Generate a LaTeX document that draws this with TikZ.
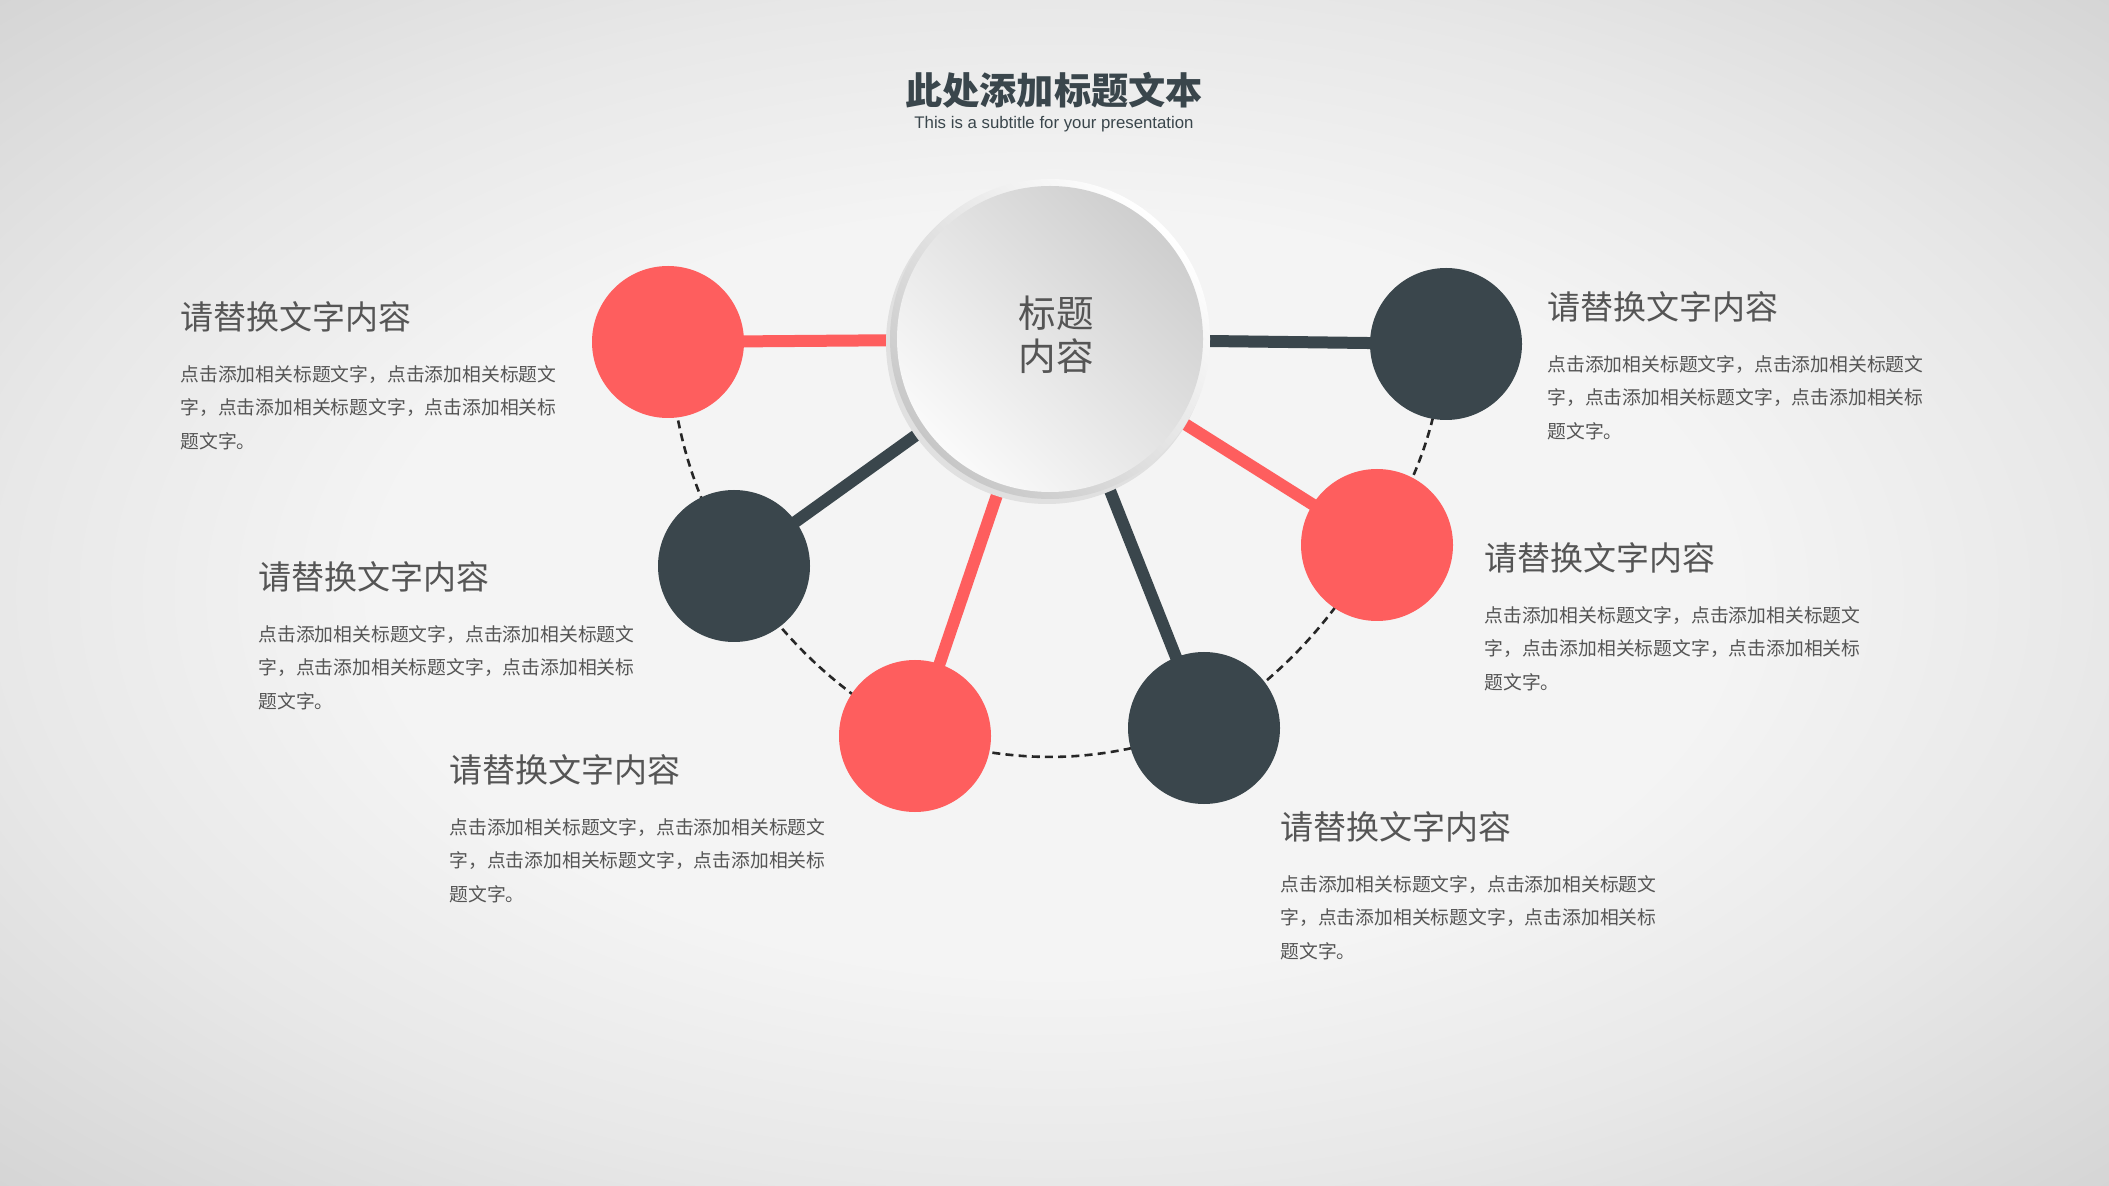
\documentclass[tikz,border=0pt]{standalone}
\usepackage{fontspec}
\setmainfont{Liberation Sans}
\newfontfamily\cjk{Noto Sans CJK SC}
\definecolor{rouge}{HTML}{FE5E5E}
\definecolor{ardoise}{HTML}{3A464C}
\definecolor{gristexte}{HTML}{555555}
\definecolor{fondclair}{HTML}{F4F4F4}
\definecolor{fondmoyen}{HTML}{E8E8E8}
\definecolor{fondsombre}{HTML}{D4D4D4}
\pgfdeclareradialshading{vignette}{\pgfpointorigin}{color(0bp)=(fondclair); color(16bp)=(fondclair); color(25bp)=(fondmoyen); color(36bp)=(fondsombre); color(50bp)=(fondsombre)}
\pgfdeclarelayer{fond}\pgfdeclarelayer{liens}
\pgfsetlayers{fond,liens,main}
\begin{document}
\begin{tikzpicture}[x=0.5pt,y=-0.5pt]
			\tikzstyle{boule}=[circle,inner sep=0pt,minimum size=76pt]
			\tikzstyle{bouleR}=[boule,fill=rouge]
			\tikzstyle{bouleA}=[boule,fill=ardoise]
			\tikzstyle{lienR}=[rouge,line width=6pt]
			\tikzstyle{lienA}=[ardoise,line width=6pt]
			\tikzstyle{pointille}=[black!85,line width=1.3pt,dash pattern=on 4pt off 2.6pt,bend right=12]
			\tikzstyle{moyeu}=[circle,inner sep=0pt,minimum size=153pt,
				top color=black!19,bottom color=black!2,shading angle=-45]
			\tikzstyle{texteMoyeu}=[inner sep=0pt,align=center,text=gristexte,font=\cjk\fontsize{18.8}{21.5}\selectfont]
			\tikzstyle{titre}=[inner sep=0pt,text=ardoise,font=\cjk\bfseries\fontsize{18.6}{20}\selectfont]
			\tikzstyle{soustitre}=[inner sep=0pt,text=ardoise,font=\fontsize{8.4}{10}\selectfont]
			\tikzstyle{entete}=[anchor=west,inner sep=0pt,text=gristexte,font=\cjk\fontsize{16.5}{18}\selectfont]
			\tikzstyle{corps}=[anchor=north west,inner sep=0pt,align=left,text=gristexte,font=\cjk\fontsize{9.4}{16.8}\selectfont]
			\def\Entete{请替换文字内容}
			\def\Corps{点击添加相关标题文字，点击添加相关标题文\\字，点击添加相关标题文字，点击添加相关标\\题文字。}
			% fond
			\begin{pgfonlayer}{fond}
				\shade[shading=vignette] (0,0) rectangle (2109,1186);
			\end{pgfonlayer}
			\useasboundingbox (0,0) rectangle (2109,1186);
			% titre
			\node[titre] (titre) at (1054,90) {此处添加标题文本};
			\node[soustitre] (soustitre) at (1054,124) {This is a subtitle for your presentation};
			% moyeu et boules
			\node[moyeu] (hub) at (1050,339) {};
			\node[texteMoyeu] (texteHub) at (1056,335) {标题\\内容};
			\node[bouleR] (b1) at (668,342) {};
			\node[bouleA] (b2) at (734,566) {};
			\node[bouleR] (b3) at (915,736) {};
			\node[bouleA] (b4) at (1204,728) {};
			\node[bouleR] (b5) at (1377,545) {};
			\node[bouleA] (b6) at (1446,344) {};
			\begin{pgfonlayer}{liens}
				\draw[lienR] (hub.center)--(b1.center) ; \draw[lienA] (hub.center)--(b2.center) ;
				\draw[lienR] (hub.center)--(b3.center) ; \draw[lienA] (hub.center)--(b4.center) ;
				\draw[lienR] (hub.center)--(b5.center) ; \draw[lienA] (hub.center)--(b6.center) ;
				\draw[pointille] (b1.center) to (b2.center) ; \draw[pointille] (b2.center) to (b3.center) ;
				\draw[pointille,bend right=17] (b3.center) to (b4.center) ; \draw[pointille] (b4.center) to (b5.center) ;
				\draw[pointille] (b5.center) to (b6.center) ;
				% bord du moyeu
				\fill[black!12] ([shift={(-3,4)}]hub.center) circle (161);
				\shade[top color=white,bottom color=black!22,shading angle=-45] (hub.center) circle (160);
			\end{pgfonlayer}
			% textes
			\foreach \n/\x/\y in {1/180/317,2/258/577,3/449/770,4/1547/307,5/1484/558,6/1280/827}{
				\node[entete] (entete\n) at (\x,\y) {\Entete};
				\node[corps] (texte\n) at (\x,{\y+48}) {\Corps};
			}
		\end{tikzpicture}
\end{document}
